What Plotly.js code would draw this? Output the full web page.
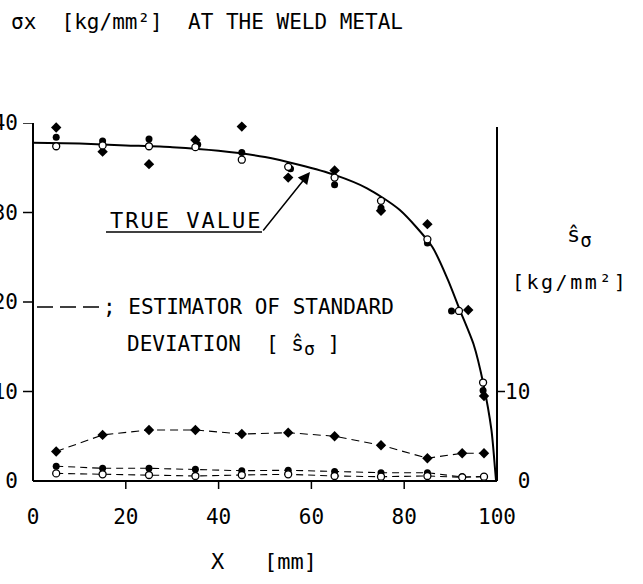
<!DOCTYPE html>
<html>
<head>
<meta charset="utf-8">
<script src="https://cdn.plot.ly/plotly-3.0.1.min.js"></script>
<style>html,body{margin:0;padding:0;background:#fff;}#chart{width:643px;height:584px;}</style>
</head>
<body>
<div id="chart"></div>
<script>
// ---- data ----
// true value curve (solid)
var trueX = [0, 10, 20, 30, 40, 50, 57.5, 65, 72, 79, 86, 89.4, 92, 95, 97, 98.8, 99.6, 99.8];
var trueY = [37.8, 37.7, 37.5, 37.3, 36.9, 36.2, 35.3, 34.2, 32.7, 30.3, 26.2, 22.5, 19.1, 15.2, 11.0, 5.7, 1.2, 0];

// sigma_x measurements
var sigDiaX  = [5, 15, 25, 35, 45, 55, 65, 75, 85, 93.8, 97.2];
var sigDiaY  = [39.5, 36.8, 35.4, 38.1, 39.6, 33.9, 34.7, 30.2, 28.7, 19.1, 9.5];
var sigDotX  = [5, 15, 25, 35.5, 45, 55.5, 65, 75, 85, 90.2, 97];
var sigDotY  = [38.4, 38.0, 38.2, 37.6, 36.7, 34.9, 33.1, 30.5, 26.6, 19.0, 10.1];
var sigOpenX = [5, 15, 25, 35, 45, 55, 65, 75, 85, 91.8, 97];
var sigOpenY = [37.4, 37.5, 37.4, 37.3, 35.9, 35.1, 33.9, 31.3, 27.0, 19.0, 11.0];

// estimator of standard deviation
var sdX      = [5, 15, 25, 35, 45, 55, 65, 75, 85, 92.5, 97.2];
var sdDiaY   = [3.3, 5.15, 5.7, 5.7, 5.25, 5.4, 5.0, 4.0, 2.55, 3.1, 3.1];
var sdDotY   = [1.65, 1.42, 1.42, 1.3, 1.15, 1.2, 1.05, 0.93, 0.93, 0.45, 0.5];
var sdOpenY  = [0.85, 0.75, 0.67, 0.56, 0.67, 0.75, 0.56, 0.48, 0.56, 0.42, 0.48];

// axis extents and ticks
var xMin = 0, xMax = 100, yMin = 0, yMax = 40;
var xTicks = [0, 20, 40, 60, 80, 100];
var xTickText = ['0', '20', '40', '60', '80', '100'];
var xMarkTicks = [20, 40, 60, 80];
var yTicks = [0, 10, 20, 30, 40];
var yTickText = ['0', '10', '20', '30', '40'];
var yMarkTicks = [10, 20, 30, 40];
var y2Ticks = [0, 10];
var y2TickText = ['\u00a00', '10'];
var y2MarkTicks = [10];

// ---- geometry: axis lines at x 33..497 px, y 123..481 px; plot box padded so tick marks fit inside ----
var W = 643, H = 584;
var AX_L = 33, AX_R = 497, AX_T = 123, AX_B = 481;
var PAD_L = 11, PAD_R = 9, PAD_B = 10;
var xu = (xMax - xMin) / (AX_R - AX_L);   // data units per pixel
var yu = (yMax - yMin) / (AX_B - AX_T);
var xRange = [xMin - PAD_L * xu, xMax + PAD_R * xu];
var yRange = [yMin - PAD_B * yu, yMax];
var L = AX_L - PAD_L, R = AX_R + PAD_R, T = AX_T, B = AX_B + PAD_B;
function px(x) { return (x - L) / (R - L); }
function py(y) { return (B - y) / (B - T); }

var FONT = 'DejaVu Sans Mono, Liberation Mono, monospace';
var black = '#000';
var tf = {family: FONT, size: 21, color: black};

var traces = [
  {x: trueX, y: trueY, mode: 'lines', line: {color: black, width: 2, shape: 'spline', smoothing: 0.7}},
  {x: sdX, y: sdDiaY, yaxis: 'y2', mode: 'lines+markers', line: {color: black, width: 1.1, dash: '8px,5px'}, marker: {symbol: 'diamond', size: 8, color: black}},
  {x: sdX, y: sdDotY, yaxis: 'y2', mode: 'lines+markers', line: {color: black, width: 1.1, dash: '7px,5px'}, marker: {symbol: 'circle', size: 7, color: black}},
  {x: sdX, y: sdOpenY, yaxis: 'y2', mode: 'lines+markers', line: {color: black, width: 1.1, dash: '7px,5px'}, marker: {symbol: 'circle', size: 7, color: '#fff', line: {color: black, width: 1.3}}},
  {x: sigDiaX, y: sigDiaY, mode: 'markers', marker: {symbol: 'diamond', size: 8, color: black}},
  {x: sigDotX, y: sigDotY, mode: 'markers', marker: {symbol: 'circle', size: 7, color: black}},
  {x: sigOpenX, y: sigOpenY, mode: 'markers', marker: {symbol: 'circle', size: 7, color: '#fff', line: {color: black, width: 1.3}}}
];
traces.forEach(function (t) { t.showlegend = false; t.cliponaxis = false; t.hoverinfo = 'skip'; });

var axLine = {color: black, width: 2};
var tickLine = {color: black, width: 1.5};
var shapes = [
  // axis lines (left, bottom, right) on the data scale
  {type: 'line', xref: 'x', yref: 'y', x0: xMin, x1: xMin, y0: yMin, y1: yMax, line: axLine, layer: 'below'},
  {type: 'line', xref: 'x', yref: 'y', x0: xMin, x1: xMax, y0: yMin, y1: yMin, line: axLine, layer: 'below'},
  {type: 'line', xref: 'x', yref: 'y', x0: xMax, x1: xMax, y0: yMin, y1: yMax - 0.45, line: axLine, layer: 'below'},
  // underline of TRUE VALUE
  {type: 'line', xref: 'paper', yref: 'paper', x0: px(106), x1: px(262), y0: py(232), y1: py(232), line: {color: black, width: 1.5}},
  // legend dashes
  {type: 'line', xref: 'paper', yref: 'paper', x0: px(37), x1: px(100), y0: py(307), y1: py(307), line: {color: black, width: 1.5, dash: '16px,7px'}}
];
// outside tick marks
xMarkTicks.forEach(function (v) {
  shapes.push({type: 'line', xref: 'x', yref: 'y', x0: v, x1: v, y0: yMin, y1: yMin - 8 * yu, line: tickLine, layer: 'below'});
});
yMarkTicks.forEach(function (v) {
  shapes.push({type: 'line', xref: 'x', yref: 'y', x0: xMin, x1: xMin - 10 * xu, y0: v, y1: v, line: tickLine, layer: 'below'});
});
y2MarkTicks.forEach(function (v) {
  shapes.push({type: 'line', xref: 'x', yref: 'y2', x0: xMax, x1: xMax + 8 * xu, y0: v, y1: v, line: tickLine, layer: 'below'});
});

var layout = {
  width: W, height: H,
  margin: {l: L, r: W - R, t: T, b: H - B, pad: 0},
  paper_bgcolor: '#fff', plot_bgcolor: '#fff',
  showlegend: false,
  font: tf,
  title: {
    text: '\u03c3x\u00a0\u00a0[kg/mm\u00b2]\u00a0\u00a0AT THE WELD METAL',
    x: 11 / W, xref: 'container', xanchor: 'left',
    y: 1 - 22 / H, yref: 'container', yanchor: 'middle',
    font: tf
  },
  xaxis: {
    range: xRange, tickmode: 'array', tickvals: xTicks, ticktext: xTickText, ticks: '',
    showgrid: false, zeroline: false, showline: false,
    tickfont: tf, ticklabelstandoff: 11,
    title: {text: '\u00a0X\u00a0\u00a0\u00a0[mm]', font: {family: FONT, size: 22, color: black}, standoff: 25}
  },
  yaxis: {
    range: yRange, tickmode: 'array', tickvals: yTicks, ticktext: yTickText, ticks: '',
    showgrid: false, zeroline: false, showline: false,
    tickfont: tf, ticklabelstandoff: 3
  },
  yaxis2: {
    overlaying: 'y', anchor: 'x', side: 'right', range: yRange,
    tickmode: 'array', tickvals: y2Ticks, ticktext: y2TickText, ticks: '',
    showgrid: false, zeroline: false, showline: false,
    tickfont: tf, ticklabelstandoff: -2
  },
  shapes: shapes,
  annotations: [
    {text: '<span style="letter-spacing:2px">TRUE VALUE</span>', xref: 'paper', yref: 'paper', x: px(108), y: py(220), xanchor: 'left', yanchor: 'middle', showarrow: false, font: {family: FONT, size: 22, color: black}},
    {text: '', xref: 'paper', yref: 'paper', x: px(310), y: py(172), ax: 262 - 310, ay: 232 - 172, showarrow: true, arrowhead: 2, arrowsize: 1.6, arrowwidth: 1.5, arrowcolor: black, standoff: 0},
    {text: ';\u00a0ESTIMATOR OF STANDARD', xref: 'paper', yref: 'paper', x: px(101), y: py(307), xanchor: 'left', yanchor: 'middle', showarrow: false, font: tf},
    {text: 'DEVIATION\u00a0\u00a0[\u2009\u015d<sub><span style="font-size:18px">\u03c3</span></sub>\u2009]', xref: 'paper', yref: 'paper', x: px(125), y: py(345), xanchor: 'left', yanchor: 'middle', showarrow: false, font: tf},
    {text: '\u015d<sub><span style="font-size:19px">\u03c3</span></sub>', xref: 'paper', yref: 'paper', x: px(565), y: py(236), xanchor: 'left', yanchor: 'middle', showarrow: false, font: {family: FONT, size: 22, color: black}},
    {text: '<span style="letter-spacing:2.5px">[kg/mm\u00b2]</span>', xref: 'paper', yref: 'paper', x: px(510), y: py(282), xanchor: 'left', yanchor: 'middle', showarrow: false, font: {family: FONT, size: 20, color: black}}
  ]
};

Plotly.newPlot('chart', traces, layout, {staticPlot: true, displayModeBar: false});
</script>
</body>
</html>
